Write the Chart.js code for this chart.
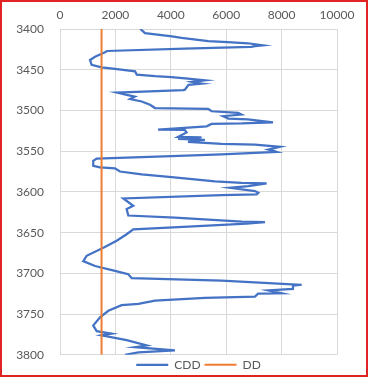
<!DOCTYPE html>
<html>
<head>
<meta charset="utf-8">
<script src="https://cdn.jsdelivr.net/npm/chart.js@4/dist/chart.umd.min.js"></script>
<style>
  html, body { margin: 0; padding: 0; background: #fff; }
  #wrap { position: relative; width: 370px; height: 378px; }
  #frame { position: absolute; left: 0; top: 0; width: 368px; height: 377px;
           box-sizing: border-box; border: 2px solid #e02424; pointer-events: none; }
</style>
</head>
<body>
<div id="wrap">
  <canvas id="logChart" width="370" height="378"></canvas>
  <div id="frame"></div>
</div>
<script>
// depth log: CDD vs depth, DD as constant reference line
const depth = [
  3400, 3405, 3409, 3411, 3415, 3416, 3417.5, 3420, 3421, 3422, 3424, 3427, 3428.5,
  3434, 3438, 3444, 3447, 3449, 3452, 3456, 3458, 3459, 3461, 3463, 3465, 3466, 3467,
  3468.5, 3474.5, 3475, 3478, 3481, 3483, 3486, 3489, 3493, 3497, 3498, 3501, 3503,
  3505, 3507, 3510, 3511, 3514.5, 3516, 3516.6, 3519.5, 3523.5, 3524, 3527, 3532.5,
  3533, 3535, 3536, 3538.6, 3541, 3542, 3544.7, 3548, 3551, 3554, 3556, 3559, 3562,
  3568, 3570, 3571, 3575, 3578.6, 3582, 3587, 3589, 3589.5, 3593, 3595, 3599, 3601,
  3603, 3604, 3608, 3617, 3621, 3629, 3631.5, 3636.5, 3637, 3639, 3642.6, 3646, 3652,
  3660, 3668, 3678.5, 3685, 3691, 3697, 3701, 3706, 3709, 3714, 3715, 3719, 3721,
  3724.5, 3725, 3728.6, 3730, 3733.6, 3737.6, 3739, 3746, 3754, 3764, 3771, 3774,
  3776, 3782, 3788.6, 3790.6, 3794.7, 3797, 3800
];
const cdd = [
  2900, 3070, 4040, 4390, 5350, 6060, 6790, 7330, 7040, 6900, 4500, 1700, 1625,
  1265, 1083, 1143, 1505, 1985, 2710, 2770, 3430, 4030, 4620, 5235, 4750, 4870, 5110,
  4640, 4510, 4450, 2050, 2410, 2700, 2530, 2950, 3250, 3430, 5350, 5475, 6430,
  6550, 5885, 6080, 6780, 7690, 6560, 5470, 5295, 3540, 4510, 4570, 4260,
  5110, 4260, 5230, 4620, 5835, 7040, 7940, 7520, 7820, 5835, 4030, 1325, 1200,
  1200, 1445, 1985, 2165, 2950, 4030, 5595, 6560, 7460, 6800, 6140, 7040, 7160,
  7100, 5835, 2285, 2645, 2405, 2465, 4150, 6560, 7400, 6740, 4630, 2645, 2405,
  2045, 1600, 960, 840, 1265, 1985, 2465, 2590, 5835, 8725, 8410, 8410, 7520,
  8000, 7150, 7040, 5235, 3430, 2830, 2225, 1745, 1445, 1200, 1325, 1865,
  1500, 2405, 3130, 2710, 4150, 2830, 2345
];
const ddValue = 1500;
const depthRange = [3400, 3800];
const cddTicks = [0, 2000, 4000, 6000, 8000, 10000];

const BLUE = "#4472C4";
const ORANGE = "#ED7D31";
const GRID = "#d9d9d9";
const TEXT = "#595959";
const FONT = "Lato, 'Open Sans', sans-serif";

const cddPoints = depth.map((d, i) => ({ x: cdd[i], y: d }));
const ddPoints = depthRange.map((d) => ({ x: ddValue, y: d }));

new Chart(document.getElementById("logChart"), {
  type: "scatter",
  data: {
    datasets: [
      {
        label: "CDD",
        data: cddPoints,
        showLine: true,
        borderColor: BLUE,
        backgroundColor: BLUE,
        borderWidth: 2.25,
        pointRadius: 0,
        tension: 0,
        order: 1
      },
      {
        label: "DD",
        data: ddPoints,
        showLine: true,
        borderColor: ORANGE,
        backgroundColor: ORANGE,
        borderWidth: 2,
        pointRadius: 0,
        order: 0
      }
    ]
  },
  options: {
    responsive: false,
    animation: false,
    devicePixelRatio: 1,
    layout: { padding: { left: 0, right: 33, top: 0, bottom: 0 } },
    plugins: {
      tooltip: { enabled: false },
      legend: {
        position: "bottom",
        fullSize: false,
        maxHeight: 22,
        labels: {
          usePointStyle: true,
          pointStyle: "line",
          pointStyleWidth: 32,
          padding: 4,
          color: TEXT,
          font: { family: FONT, size: 12 },
          sort: (a, b) => a.datasetIndex - b.datasetIndex
        }
      }
    },
    scales: {
      x: {
        type: "linear",
        position: "top",
        min: 0,
        max: 10000,
        afterBuildTicks: (s) => { s.ticks = cddTicks.map((v) => ({ value: v })); },
        afterFit: (s) => { s.height = 29; },
        grid: { color: GRID, drawTicks: false },
        border: { color: GRID },
        ticks: { color: TEXT, padding: 7, font: { family: FONT, size: 12 }, callback: (v) => String(v) }
      },
      y: {
        type: "linear",
        reverse: true,
        min: depthRange[0],
        max: depthRange[1],
        afterFit: (s) => { s.width = 60; },
        grid: { color: GRID, drawTicks: false },
        border: { color: GRID },
        ticks: { stepSize: 50, color: TEXT, padding: 16, font: { family: FONT, size: 12 }, callback: (v) => String(v) }
      }
    }
  }
});
</script>
</body>
</html>
